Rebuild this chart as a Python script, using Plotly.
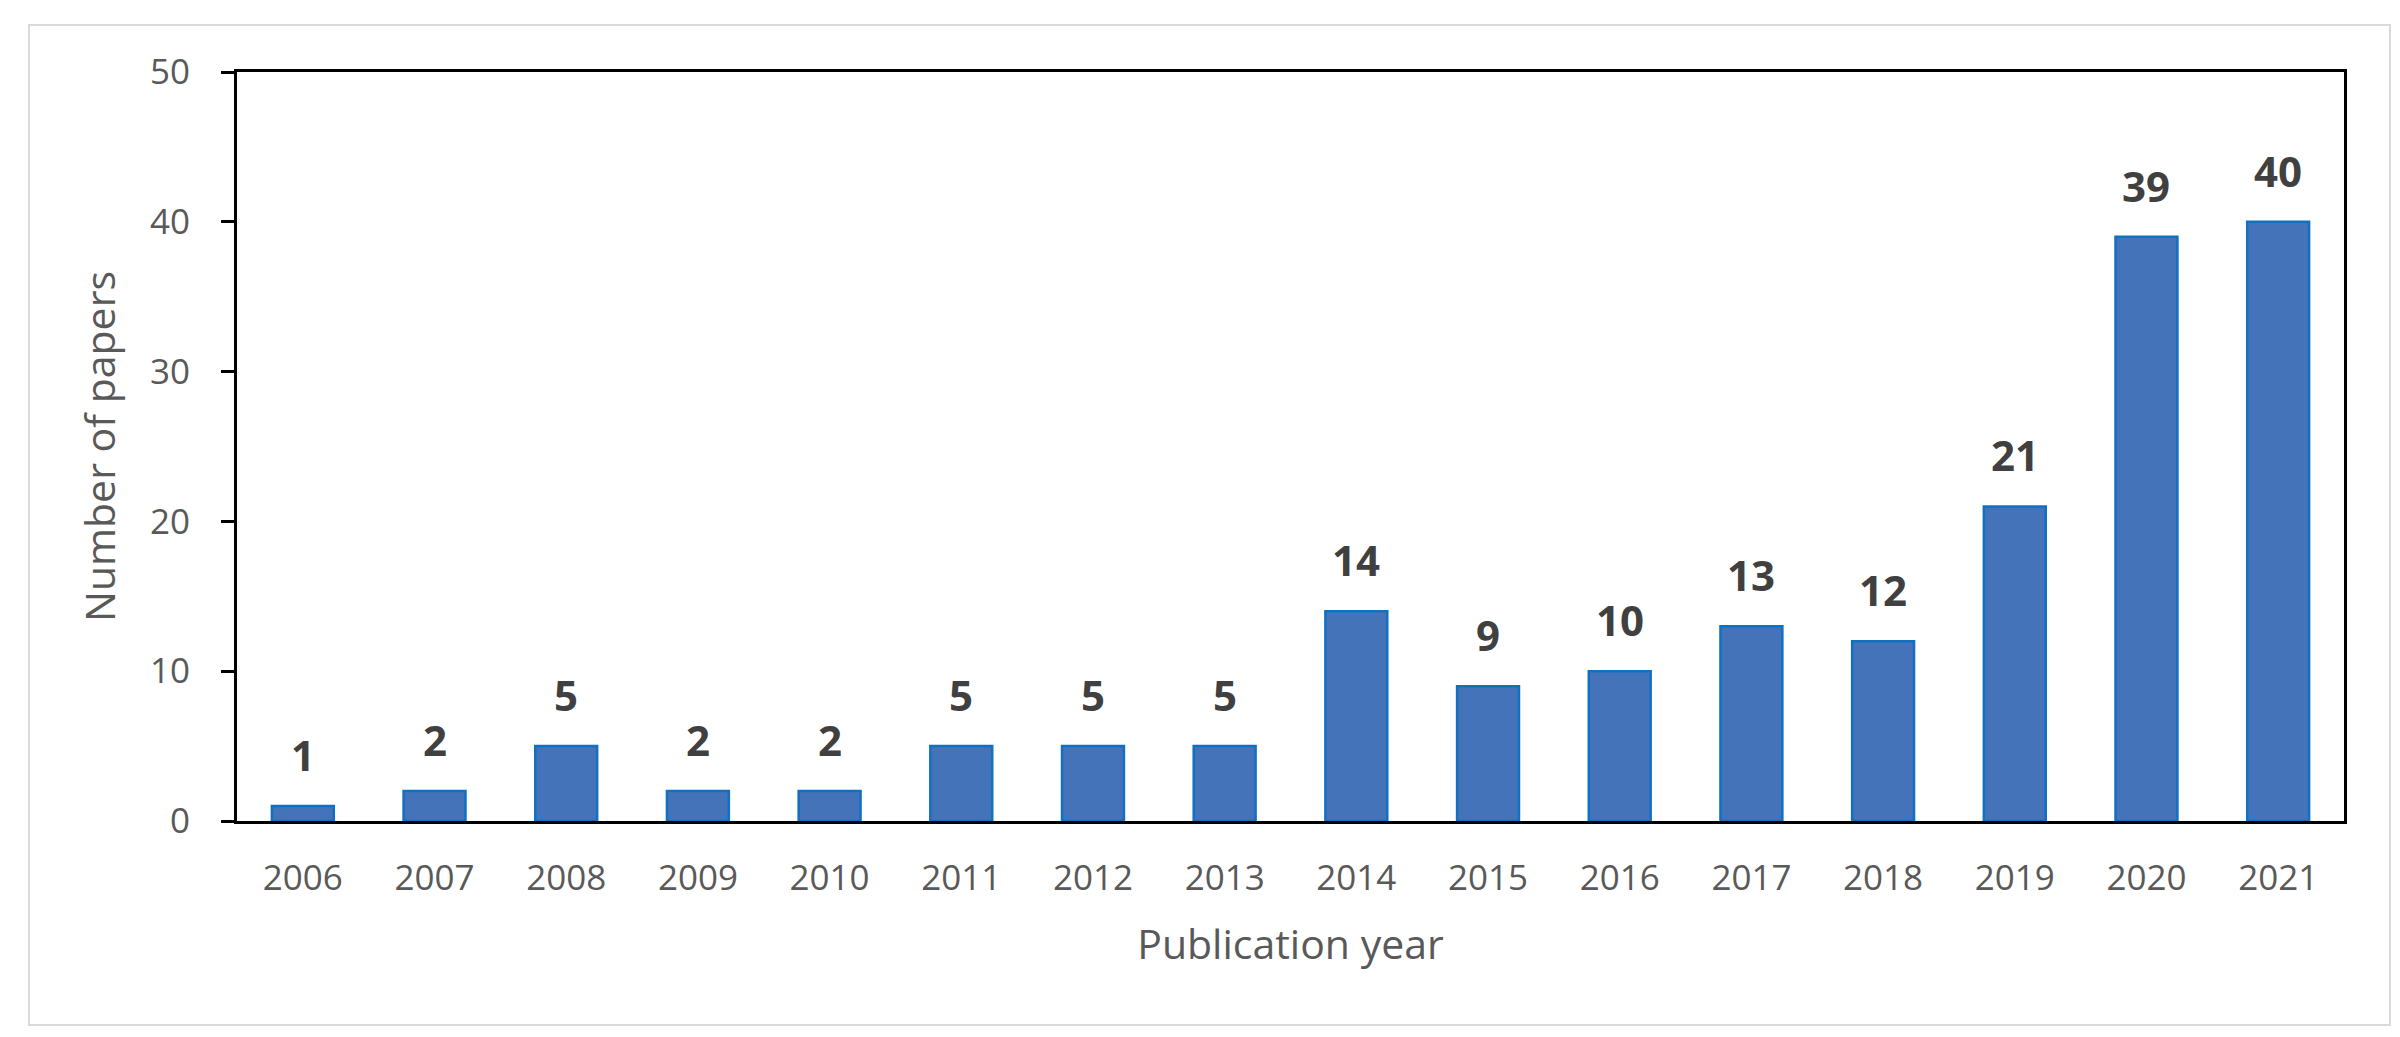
import plotly.graph_objects as go

years = ["2006", "2007", "2008", "2009", "2010", "2011", "2012", "2013",
         "2014", "2015", "2016", "2017", "2018", "2019", "2020", "2021"]
papers = [1, 2, 5, 2, 2, 5, 5, 5, 14, 9, 10, 13, 12, 21, 39, 40]
y_ticks = [0, 10, 20, 30, 40, 50]

FONT = "Open Sans"

fig = go.Figure()
fig.add_trace(go.Bar(
    x=years, y=papers,
    marker=dict(color="#4573BA", line=dict(color="#1270C0", width=2.5)),
    hoverinfo="x+y",
))

# data labels: category axis positions addressed by category index
for i, v in enumerate(papers):
    fig.add_annotation(
        x=i, y=v, text=str(v), showarrow=False,
        yanchor="bottom", yshift=21,
        font=dict(family=FONT, size=42, color="#404040", weight="bold"),
    )

# outer light-gray frame
L, R, T, B = 229, 2336, 64, 813
W, H = R - L, B - T
fig.add_shape(type="rect", xref="paper", yref="paper",
              x0=(21 - L) / W, x1=(2382 - L) / W,
              y0=(B - 1017) / H, y1=(B - 17) / H,
              line=dict(color="#D9D9D9", width=2), layer="below")

fig.update_layout(
    width=2400, height=1037, autosize=False,
    margin=dict(l=L, r=2400 - R, t=T, b=1037 - B, autoexpand=False),
    paper_bgcolor="white", plot_bgcolor="white",
    bargap=0.53, showlegend=False,
    font=dict(family=FONT, color="#595959"),
)
fig.update_xaxes(
    type="category", categoryorder="array", categoryarray=years,
    range=[-0.5, len(years) - 0.5],
    showline=True, linecolor="black", linewidth=3, mirror=True,
    ticks="", showgrid=False,
    tickfont=dict(family=FONT, size=35, color="#595959"),
    ticklabelstandoff=24,
    title=dict(text="Publication year", font=dict(family=FONT, size=41, color="#595959"), standoff=32),
)
fig.update_yaxes(
    range=[0, 50], tickvals=y_ticks,
    showline=True, linecolor="black", linewidth=3, mirror=True,
    ticks="outside", ticklen=13, tickwidth=3, tickcolor="black",
    showgrid=False, zeroline=False,
    tickfont=dict(family=FONT, size=35, color="#595959"),
    ticklabelstandoff=24,
    title=dict(text="Number of papers", font=dict(family=FONT, size=41, color="#595959"), standoff=22),
)

fig.write_html("out.html")
